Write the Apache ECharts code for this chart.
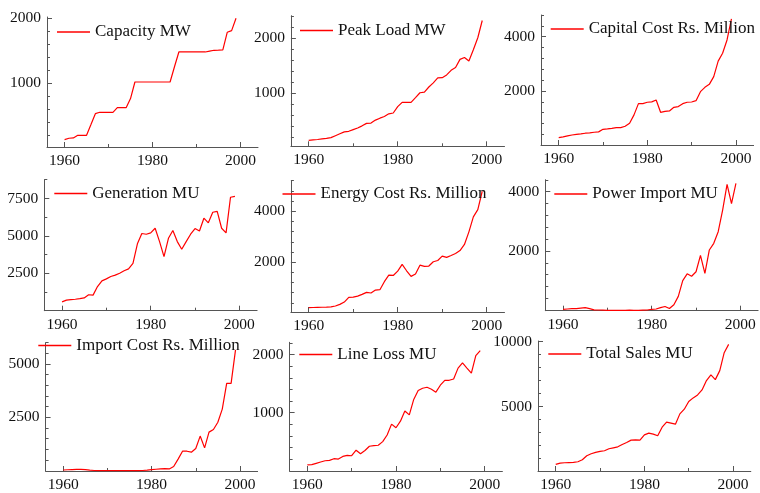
<!DOCTYPE html>
<html>
<head>
<meta charset="utf-8">
<script src="https://cdn.jsdelivr.net/npm/echarts@6/dist/echarts.min.js"></script>
<style>html,body{margin:0;padding:0;background:#fff;}#c{width:760px;height:493px;}</style>
</head>
<body>
<div id="c"></div>
<script>
const years = [1960,1961,1962,1963,1964,1965,1966,1967,1968,1969,1970,1971,1972,1973,1974,1975,1976,1977,1978,1979,1980,1981,1982,1983,1984,1985,1986,1987,1988,1989,1990,1991,1992,1993,1994,1995,1996,1997,1998,1999];

const capacity = [128,150,155,195,195,195,360,528,549,549,549,549,620,620,620,760,1015,1015,1015,1015,1015,1015,1015,1015,1015,1250,1477,1477,1477,1477,1477,1477,1477,1490,1503,1505,1508,1780,1805,1995];
const peakLoad = [134,142,150,160,170,185,220,255,290,300,330,360,400,445,450,505,540,570,620,635,750,830,830,830,915,1005,1015,1110,1185,1275,1280,1330,1415,1465,1615,1650,1585,1790,2010,2325];
const capitalCost = [280,310,345,380,400,420,445,460,480,495,590,605,625,650,650,700,810,1120,1535,1535,1585,1600,1670,1215,1250,1265,1400,1425,1535,1585,1595,1645,1975,2135,2245,2530,3100,3390,3880,4660];
const generation = [600,710,740,770,810,860,1070,1045,1620,2000,2130,2290,2380,2510,2670,2800,3160,4470,5160,5110,5200,5510,4620,3620,4840,5360,4620,4110,4620,5110,5490,5330,6180,5870,6580,6640,5510,5200,7580,7640];
const energyCost = [210,215,220,225,230,240,275,340,430,615,625,665,730,810,785,900,915,1230,1490,1475,1645,1910,1660,1440,1530,1880,1830,1845,2015,2065,2235,2185,2260,2340,2455,2695,3190,3780,4065,4785];
const powerImport = [35,45,55,60,75,90,55,15,10,5,0,0,0,0,0,5,0,0,5,10,35,45,90,130,60,190,470,1000,1230,1150,1300,1855,1245,2035,2260,2650,3380,4250,3600,4280];
const importCost = [30,40,50,55,60,45,20,5,0,0,0,0,0,0,0,0,0,0,5,20,45,65,80,90,80,190,540,910,910,865,1035,1620,1065,1805,1930,2270,2885,4090,4090,5665];
const lineLoss = [97,102,125,148,170,176,205,199,244,261,256,352,290,347,420,432,437,500,614,801,739,852,1028,960,1227,1381,1420,1437,1403,1352,1472,1557,1557,1580,1767,1858,1767,1682,1983,2068];
const totalSales = [538,641,667,680,692,744,897,1205,1359,1462,1538,1590,1744,1820,1897,2077,2231,2410,2436,2410,2821,2949,2872,2744,3410,3795,3718,3641,4436,4795,5385,5667,5897,6282,7000,7436,7077,7769,9154,9795];

const names = ['Capacity MW','Peak Load MW','Capital Cost Rs. Million','Generation MU','Energy Cost Rs. Million','Power Import MU','Import Cost Rs. Million','Line Loss MU','Total Sales MU'];
const seriesData = [capacity, peakLoad, capitalCost, generation, energyCost, powerImport, importCost, lineLoss, totalSales];

const xTickLabels = [1960,1980,2000];
const xMinorTicks = [1970,1990];
const yTickLabels = [[1000,2000],[1000,2000],[2000,4000],[2500,5000,7500],[2000,4000],[2000,4000],[2500,5000],[1000,2000],[5000,10000]];
const yMinorTicks = [
  [200,400,600,800,1200,1400,1600,1800],
  [200,400,600,800,1200,1400,1600,1800,2200,2400],
  [400,800,1200,1600,2400,2800,3200,3600,4400,4800],
  [1250,3750,6250,8750],
  [400,800,1200,1600,2400,2800,3200,3600,4400,4800,5200],
  [400,800,1200,1600,2400,2800,3200,3600,4400],
  [500,1000,1500,2000,3000,3500,4000,4500,5500,6000],
  [200,400,600,800,1200,1400,1600,1800,2200],
  [1000,2000,3000,4000,6000,7000,8000,9000]
];

// layout (left, top, width, height) and y ranges per panel
const grids = [
  [47,17,211,130],[290.9,15.7,213.6,130.6],[541,15,212.6,130],
  [44.3,179.7,212.8,131],[290.9,180.7,213.6,131.3],[545.3,179.7,212.8,131],
  [45.6,342.7,212,130],[289.6,342.3,212.8,130],[538,341,212.8,130.3]
];
const yRanges = [[15,2015],[26,2413],[11,4800],[7,8750],[39,5200],[-13,4405],[-18,6000],[-7,2212],[31,10054]];
const legendPos = [[57,23.5],[300,22],[550.7,20.5],[54.3,185],[282.5,185.5],[554.3,185.5],[38.3,337],[299.3,346],[548.3,345.5]];

const axisColor = '#555';
const labelFont = {fontFamily:'Liberation Serif', fontSize:15.5, color:'#111'};

const option = {animation:false, grid:[], xAxis:[], yAxis:[], series:[], legend:[]};

for (let i = 0; i < 9; i++) {
  const g = grids[i];
  option.grid.push({left:g[0], top:g[1], width:g[2], height:g[3], containLabel:false});
  const xBase = {type:'value', gridIndex:i, min:1956, max:2004, position:'bottom', offset:0, splitLine:{show:false}};
  option.xAxis.push(Object.assign({}, xBase, {
    axisLine:{show:true, onZero:false, lineStyle:{color:axisColor, width:1}},
    axisTick:{show:true, inside:true, length:5, customValues:xTickLabels, lineStyle:{color:axisColor}},
    axisLabel:{show:true, margin:6, customValues:xTickLabels, formatter:v=>String(v), ...labelFont}
  }));
  option.xAxis.push(Object.assign({}, xBase, {
    axisLine:{show:false, onZero:false},
    axisTick:{show:true, inside:true, length:3, customValues:xMinorTicks, lineStyle:{color:axisColor}},
    axisLabel:{show:false}
  }));
  const yr = yRanges[i];
  const yBase = {type:'value', gridIndex:i, min:yr[0], max:yr[1], position:'left', offset:0, splitLine:{show:false}};
  option.yAxis.push(Object.assign({}, yBase, {
    axisLine:{show:true, onZero:false, lineStyle:{color:axisColor, width:1}},
    axisTick:{show:true, inside:true, length:5, customValues:yTickLabels[i], lineStyle:{color:axisColor}},
    axisLabel:{show:true, margin:6, customValues:yTickLabels[i], formatter:v=>String(v), ...labelFont}
  }));
  option.yAxis.push(Object.assign({}, yBase, {
    axisLine:{show:false, onZero:false},
    axisTick:{show:true, inside:true, length:3, customValues:yMinorTicks[i], lineStyle:{color:axisColor}},
    axisLabel:{show:false}
  }));
  option.series.push({
    type:'line', name:names[i], xAxisIndex:2*i, yAxisIndex:2*i,
    showSymbol:false, symbol:'none', smooth:false,
    lineStyle:{color:'#ff0000', width:1.2}, itemStyle:{color:'#ff0000'},
    data: years.map((y, j) => [y, seriesData[i][j]])
  });
  option.legend.push({
    data:[names[i]], left:legendPos[i][0], top:legendPos[i][1], padding:0,
    icon:'rect', itemWidth:33, itemHeight:1.3, selectedMode:false,
    itemStyle:{color:'#ff0000', borderWidth:0},
    lineStyle:{color:'#ff0000', width:0},
    textStyle:{fontFamily:'Liberation Serif', fontSize:17, color:'#111'}
  });
}

const chart = echarts.init(document.getElementById('c'), null, {renderer:'canvas'});
chart.setOption(option);
</script>
</body>
</html>
